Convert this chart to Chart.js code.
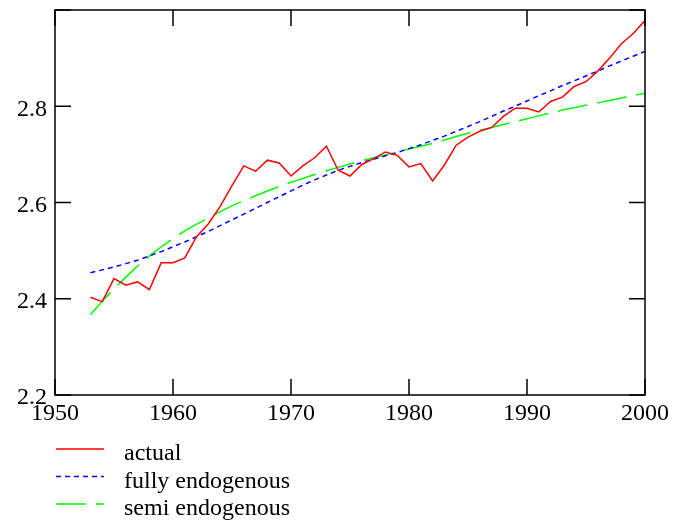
<!DOCTYPE html>
<html>
<head>
<meta charset="utf-8">
<script src="https://cdn.jsdelivr.net/npm/chart.js@4.4.1/dist/chart.umd.min.js"></script>
<style>
  html, body { margin: 0; padding: 0; background: #fff; }
  #wrap { width: 677px; height: 523px; }
</style>
</head>
<body>
<div id="wrap"><canvas id="chart" width="677" height="523"></canvas></div>
<script>
const years = [];
for (let y = 1953; y <= 2000; y++) years.push(y);

const actual = [
  2.403, 2.394, 2.442, 2.428, 2.435, 2.419, 2.475, 2.475, 2.485, 2.529,
  2.556, 2.592, 2.635, 2.676, 2.665, 2.688, 2.682, 2.655, 2.676, 2.693,
  2.717, 2.667, 2.655, 2.679, 2.691, 2.705, 2.698, 2.674, 2.681, 2.645,
  2.678, 2.719, 2.736, 2.748, 2.756, 2.779, 2.796, 2.796, 2.788, 2.810,
  2.819, 2.841, 2.851, 2.873, 2.900, 2.930, 2.951, 2.978
];

const fullyEndo = [
  2.454, 2.460, 2.466, 2.473, 2.480, 2.489, 2.498, 2.508, 2.518, 2.529,
  2.540, 2.552, 2.564, 2.576, 2.588, 2.600, 2.612, 2.624, 2.636, 2.647,
  2.657, 2.667, 2.675, 2.683, 2.690, 2.697, 2.704, 2.712, 2.720, 2.729,
  2.738, 2.748, 2.758, 2.768, 2.779, 2.790, 2.800, 2.811, 2.822, 2.832,
  2.843, 2.853, 2.863, 2.873, 2.884, 2.894, 2.904, 2.914
];

const semiEndo = [
  2.367, 2.395, 2.421, 2.445, 2.468, 2.489, 2.508, 2.525, 2.541, 2.555,
  2.568, 2.581, 2.593, 2.604, 2.614, 2.624, 2.633, 2.642, 2.650, 2.658,
  2.666, 2.673, 2.680, 2.687, 2.693, 2.699, 2.705, 2.711, 2.717, 2.723,
  2.730, 2.737, 2.744, 2.750, 2.756, 2.762, 2.768, 2.774, 2.780, 2.786,
  2.792, 2.797, 2.802, 2.807, 2.812, 2.817, 2.822, 2.827
];

const seriesLabels = ['actual', 'fully endogenous', 'semi endogenous'];

const FONT = "'Liberation Serif', 'Times New Roman', serif";

function pts(vals) {
  return vals.map((v, i) => ({ x: years[i], y: v }));
}

// frame on all four sides, ticks pointing inward, legend underneath
const framePlugin = {
  id: 'frame',
  afterDraw(chart) {
    const c = chart.ctx;
    const a = chart.chartArea;
    const xs = chart.scales.x, ys = chart.scales.y;
    const tl = 16;
    c.save();
    c.strokeStyle = '#000';
    c.lineWidth = 1.5;
    c.strokeRect(a.left, a.top, a.right - a.left, a.bottom - a.top);
    c.beginPath();
    xs.ticks.forEach(t => {
      const px = xs.getPixelForValue(t.value);
      c.moveTo(px, a.bottom); c.lineTo(px, a.bottom - tl);
      c.moveTo(px, a.top); c.lineTo(px, a.top + tl);
    });
    ys.ticks.forEach(t => {
      const py = ys.getPixelForValue(t.value);
      c.moveTo(a.left, py); c.lineTo(a.left + tl, py);
      c.moveTo(a.right, py); c.lineTo(a.right - tl, py);
    });
    c.stroke();

    // legend
    c.font = '24px ' + FONT;
    c.fillStyle = '#000';
    c.textBaseline = 'middle';
    chart.data.datasets.forEach((ds, i) => {
      const y = 449 + i * 27.5;
      c.beginPath();
      c.strokeStyle = ds.borderColor;
      c.lineWidth = 1.5;
      c.setLineDash(ds.legendDash || []);
      c.moveTo(56, y); c.lineTo(104, y);
      c.stroke();
      c.setLineDash([]);
      c.fillText(ds.label, 124, y + 5);
    });
    c.restore();
  }
};

const ctx = document.getElementById('chart').getContext('2d');

const chart = new Chart(ctx, {
  type: 'line',
  data: {
    datasets: [
      {
        label: seriesLabels[0],
        data: pts(actual),
        borderColor: '#ff0000',
        borderWidth: 1.5,
        pointRadius: 0,
        fill: false
      },
      {
        label: seriesLabels[1],
        data: pts(fullyEndo),
        borderColor: '#0000ff',
        borderWidth: 1.5,
        borderDash: [5, 4],
        legendDash: [5, 4],
        pointRadius: 0,
        fill: false
      },
      {
        label: seriesLabels[2],
        data: pts(semiEndo),
        borderColor: '#00ff00',
        borderWidth: 1.5,
        borderDash: [30, 10],
        legendDash: [30, 10],
        pointRadius: 0,
        fill: false
      }
    ]
  },
  options: {
    responsive: false,
    animation: false,
    layout: { padding: { left: 0, top: 10, right: 32, bottom: 0 } },
    plugins: {
      legend: { display: false },
      tooltip: { enabled: false }
    },
    scales: {
      x: {
        type: 'linear',
        min: 1950,
        max: 2000,
        grid: { display: false, drawTicks: false },
        border: { display: false },
        ticks: {
          stepSize: 10,
          padding: 4,
          color: '#000',
          font: { family: FONT, size: 24 },
          maxRotation: 0,
          callback: v => String(v)
        },
        afterFit(scale) {
          scale.height = 128;
          scale.paddingLeft = 0;
          scale.paddingRight = 0;
        }
      },
      y: {
        min: 2.2,
        max: 3.0,
        grid: { display: false, drawTicks: false },
        border: { display: false },
        ticks: {
          stepSize: 0.2,
          padding: 8,
          labelOffset: 3,
          color: '#000',
          font: { family: FONT, size: 24 },
          callback: v => (v > 2.95 ? '' : v.toFixed(1))
        },
        afterFit(scale) {
          scale.width = 55;
          scale.paddingTop = 0;
          scale.paddingBottom = 0;
        }
      }
    }
  },
  plugins: [framePlugin]
});
</script>
</body>
</html>
